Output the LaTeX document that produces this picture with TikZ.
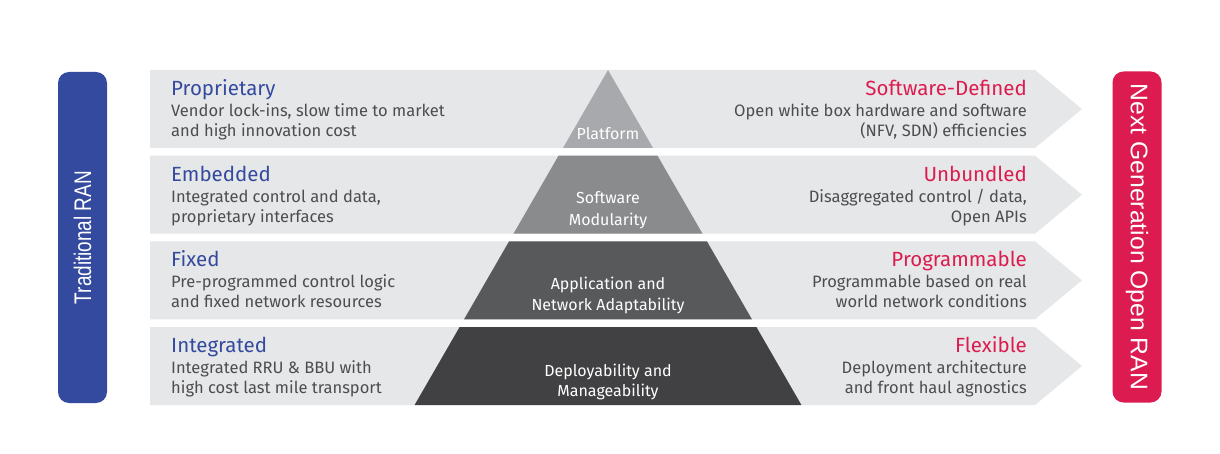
\documentclass[tikz,border=0pt]{standalone}
\usepackage{fontspec}
\setmainfont{Fira Sans}
\newfontfamily\leftfont[FakeStretch=0.79]{Liberation Sans}
\newfontfamily\rightfont[FakeStretch=1.03]{Liberation Sans}
\definecolor{ranblue}{HTML}{344A9F}
\definecolor{ranred}{HTML}{DC1C50}
\definecolor{band}{HTML}{E6E7E8}
\definecolor{txt}{HTML}{4D4D4F}
\definecolor{pyrA}{HTML}{A7A9AC}
\definecolor{pyrB}{HTML}{8A8B8D}
\definecolor{pyrC}{HTML}{58595B}
\definecolor{pyrD}{HTML}{414042}
\tikzset{
  sidebar/.style={minimum width=331pt, minimum height=49pt, rounded corners=11pt, text=white, inner sep=0pt},
  lt/.style={anchor=base west, inner sep=0pt, font=\fontsize{20.5}{24}\selectfont, text=ranblue},
  rt/.style={anchor=base east, inner sep=0pt, font=\fontsize{20.5}{24}\selectfont, text=ranred},
  lb/.style={anchor=base west, inner sep=0pt, font=\fontsize{16.5}{20}\selectfont, text=txt},
  rb/.style={anchor=base east, inner sep=0pt, font=\fontsize{16.5}{20}\selectfont, text=txt},
  pl/.style={anchor=base, inner sep=0pt, font=\fontsize{16}{20}\selectfont, text=white},
}
\begin{document}
\begin{tikzpicture}[x=1pt,y=-1pt]
\useasboundingbox (0,0) rectangle (1220,454);
\fill[white] (0,0) rectangle (1220,454);
% bands
\foreach \t in {70,155.7,241.3,327}{
  \fill[band] (150,\t) -- (1035,\t) -- (1082,\t+39) -- (1035,\t+78) -- (150,\t+78) -- cycle;
}
% pyramid
\fill[pyrA] (608,70) -- ({608+78*0.5774},148) -- ({608-78*0.5774},148) -- cycle;
\fill[pyrB] ({608-85.7*0.5774},155.7) -- ({608+85.7*0.5774},155.7) -- ({608+163.7*0.5774},233.7) -- ({608-163.7*0.5774},233.7) -- cycle;
\fill[pyrC] ({608-171.3*0.5774},241.3) -- ({608+171.3*0.5774},241.3) -- ({608+249.3*0.5774},319.3) -- ({608-249.3*0.5774},319.3) -- cycle;
\fill[pyrD] ({608-257*0.5774},327) -- ({608+257*0.5774},327) -- ({608+335*0.5774},405) -- ({608-335*0.5774},405) -- cycle;
% side bars
\node[sidebar, fill=ranblue, rotate=90] (trad) at (82.5,237.5) {\leftfont\fontsize{24}{28}\selectfont Traditional RAN};
\node[sidebar, fill=ranred, rotate=-90] (next) at (1137,237) {\rightfont\fontsize{24}{28}\selectfont Next Generation Open RAN};
% row 1
\node[lt] (l1t) at (171,95.5) {Proprietary};
\node[lb] (l1a) at (171,116.5) {Vendor lock-ins, slow time to market};
\node[lb] (l1b) at (171,136.5) {and high innovation cost};
\node[rt] (r1t) at (1027,95.5) {Software-Defined};
\node[rb] (r1a) at (1027,116.5) {Open white box hardware and software};
\node[rb] (r1b) at (1027,136.5) {(NFV, SDN) efficiencies};
\node[pl] (p1) at (608,140) {Platform};
% row 2
\node[lt] (l2t) at (171,181.2) {Embedded};
\node[lb] (l2a) at (171,202.2) {Integrated control and data,};
\node[lb] (l2b) at (171,222.2) {proprietary interfaces};
\node[rt] (r2t) at (1027,181.2) {Unbundled};
\node[rb] (r2a) at (1027,202.2) {Disaggregated control / data,};
\node[rb] (r2b) at (1027,222.2) {Open APIs};
\node[pl] (p2a) at (608,204) {Software};
\node[pl] (p2b) at (608,225.7) {Modularity};
% row 3
\node[lt] (l3t) at (171,266.8) {Fixed};
\node[lb] (l3a) at (171,287.8) {Pre-programmed control logic};
\node[lb] (l3b) at (171,307.8) {and fixed network resources};
\node[rt] (r3t) at (1027,266.8) {Programmable};
\node[rb] (r3a) at (1027,287.8) {Programmable based on real};
\node[rb] (r3b) at (1027,307.8) {world network conditions};
\node[pl] (p3a) at (608,290) {Application and};
\node[pl] (p3b) at (608,310.5) {Network Adaptability};
% row 4
\node[lt] (l4t) at (171,352.5) {Integrated};
\node[lb] (l4a) at (171,373.5) {Integrated RRU \& BBU with};
\node[lb] (l4b) at (171,393.5) {high cost last mile transport};
\node[rt] (r4t) at (1027,352.5) {Flexible};
\node[rb] (r4a) at (1027,373.5) {Deployment architecture};
\node[rb] (r4b) at (1027,393.5) {and front haul agnostics};
\node[pl] (p4a) at (608,376) {Deployability and};
\node[pl] (p4b) at (608,396.5) {Manageability};
\end{tikzpicture}
\end{document}
